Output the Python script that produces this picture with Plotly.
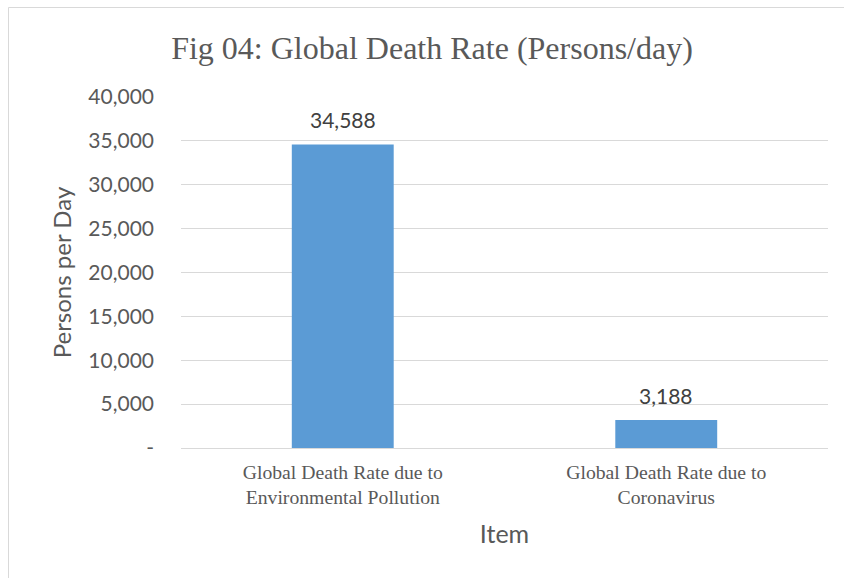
import plotly.graph_objects as go

categories = ["Global Death Rate due to<br>Environmental Pollution", "Global Death Rate due to<br>Coronavirus"]
values = [34588, 3188]
value_labels = ["34,588", "3,188"]
tick_vals = [0, 5000, 10000, 15000, 20000, 25000, 30000, 35000, 40000]
tick_text = ["-", "5,000", "10,000", "15,000", "20,000", "25,000", "30,000", "35,000", "40,000"]

W, H = 844, 578
L, R, T, B = 181, 16, 97, 130
pw, ph = W - L - R, H - T - B

SANS = "Lato, Open Sans, sans-serif"
SERIF = "Liberation Serif, Times New Roman, serif"
GREY = "#595959"

fig = go.Figure(go.Bar(
    x=categories, y=values,
    marker=dict(color="#5b9bd5", line=dict(width=0)), width=0.315,
))

for c, v, t in zip(categories, values, value_labels):
    fig.add_annotation(x=c, y=v, text=t, showarrow=False, yanchor="middle", yshift=25,
                       font=dict(family=SANS, size=21, color="#404040"))

def px_x(p):
    return (p - L) / pw

def px_y(p):
    return 1 - (p - T) / ph

fig.add_shape(type="rect", xref="paper", yref="paper",
              x0=px_x(8.5), x1=px_x(860), y0=px_y(600), y1=px_y(7.5),
              line=dict(color="#d9d9d9", width=1), fillcolor="rgba(0,0,0,0)", layer="below")

fig.update_layout(
    width=W, height=H,
    margin=dict(l=L, r=R, t=T, b=B),
    paper_bgcolor="white", plot_bgcolor="white",
    title=dict(text="Fig 04: Global Death Rate (Persons/day)", x=432 / W,
               xanchor="center", y=1 - 48 / H, yanchor="middle",
               font=dict(family=SERIF, size=32, color=GREY)),
    showlegend=False,
    bargap=0.685,
)
fig.update_yaxes(range=[0, 40000], tickvals=tick_vals, ticktext=tick_text,
                 showgrid=True, gridcolor="#d9d9d9", gridwidth=1, zeroline=False,
                 showline=False, ticks="", ticklen=0, ticklabelstandoff=26,
                 tickfont=dict(family=SANS, size=21, color=GREY),
                 title=dict(text="Persons per Day", standoff=9,
                            font=dict(family=SANS, size=24, color=GREY)))
fig.update_xaxes(showline=True, linecolor="#d9d9d9", linewidth=1, ticks="", ticklabelstandoff=6,
                 tickfont=dict(family=SERIF, size=19.7, color=GREY),
                 title=dict(text="Item", standoff=18,
                            font=dict(family=SANS, size=25, color=GREY)))

fig.write_html("out.html", post_script="document.body.style.margin='0';",
               config={"displayModeBar": False})
